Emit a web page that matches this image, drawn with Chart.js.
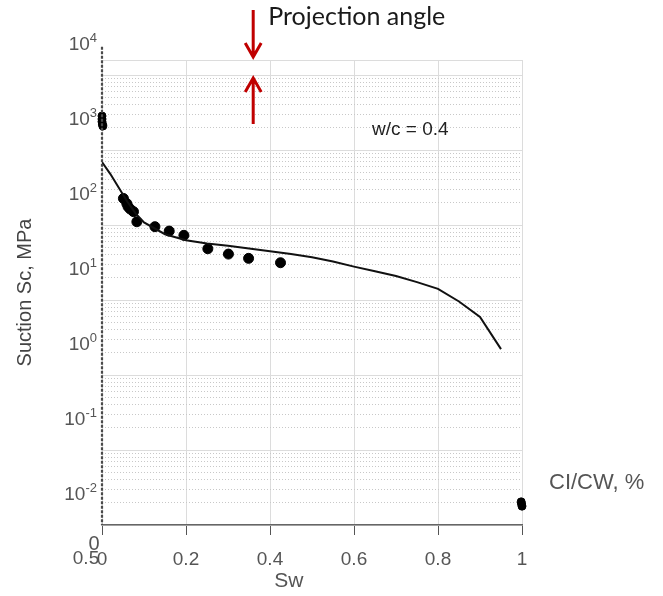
<!DOCTYPE html>
<html>
<head>
<meta charset="utf-8">
<script src="https://cdn.jsdelivr.net/npm/chart.js@4"></script>
<style>
  html, body { margin: 0; padding: 0; background: #fff; }
  #wrap { width: 663px; height: 596px; }
</style>
</head>
<body>
<div id="wrap"><canvas id="suctionChart" width="663" height="596"></canvas></div>
<script>
// model curve: suction vs saturation
const swCurve = [0, 0.02, 0.04, 0.06, 0.08, 0.1, 0.15, 0.2, 0.25, 0.3, 0.35, 0.4, 0.45, 0.5, 0.55, 0.6, 0.65, 0.7, 0.75, 0.8, 0.85, 0.9, 0.95];
const scCurve = [275, 190, 125, 82, 57, 43, 30, 25, 22.5, 21, 19.3, 17.8, 16.3, 14.8, 13, 11.1, 9.6, 8.3, 6.9, 5.6, 3.8, 2.36, 0.88];

// measured points
const swPoints = [0.051, 0.059, 0.062, 0.067, 0.075, 0.083, 0.126, 0.16, 0.195, 0.252, 0.301, 0.349, 0.425];
const scPoints = [90, 77, 70, 65, 60, 44, 37.8, 33, 29, 19.2, 16.3, 14.3, 12.5];

// clusters at the axis ends (CI/CW overlay)
const swDry = [0, 0, 0, 0.001, 0.002];
const scDry = [1130, 1030, 950, 880, 830];
const swWet = [0.998, 0.999, 1.0, 1.002, 1.003];
const ciWet = [0.0081, 0.0076, 0.0071, 0.0066, 0.0062];

// left overlay axis edge
const swEdge = [0, 0];
const scEdge = [9500, 0.004];

const xTicks = [0, 0.2, 0.4, 0.6, 0.8, 1];
const yTickExp = [4, 3, 2, 1, 0, -1, -2];
const gridExp = [-3, -2, -1, 0, 1, 2, 3];

const yMin = Math.pow(10, -2.4), yMax = Math.pow(10, 3.8);
const gMin = 1e-3, gMax = Math.pow(10, 3.2);

const gridValues = [];
gridExp.forEach(e => {
  for (let m = 1; m <= 9; m++) {
    const v = m * Math.pow(10, e);
    if (v <= gMax) gridValues.push(v);
  }
});
gridValues.push(gMax);

const isMajor = v => Math.abs(Math.log10(v) - Math.round(Math.log10(v))) < 1e-6 || v >= gMax * 0.999;

const toXY = (xs, ys) => xs.map((x, i) => ({ x: x, y: ys[i] }));

const SANS = "'Liberation Sans', Arial, sans-serif";
Chart.defaults.font.family = SANS;

const overlay = {
  id: "overlay",
  afterDraw(chart) {
    const ctx = chart.ctx;
    const xs = chart.scales.x, ys = chart.scales.y;
    const a = chart.chartArea;
    ctx.save();

    // y tick labels 10^n with real superscripts
    const right = ys.right - 5;
    ctx.fillStyle = "#555";
    ctx.textBaseline = "middle";
    yTickExp.forEach(e => {
      const py = ys.getPixelForValue(Math.pow(10, e));
      const ex = e < 0 ? "-" + Math.abs(e) : String(e);
      ctx.font = "13px " + SANS;
      const ew = ctx.measureText(ex).width;
      ctx.textAlign = "left";
      ctx.fillText(ex, right - ew, py - 7);
      ctx.font = "19px " + SANS;
      ctx.textAlign = "right";
      ctx.fillText("10", right - ew, py);
    });

    // projection angle arrows
    const ax = xs.getPixelForValue(0.36);
    ctx.strokeStyle = "#c00000";
    ctx.lineWidth = 3;
    ctx.beginPath();
    ctx.moveTo(ax, a.top - 50); ctx.lineTo(ax, a.top - 4);
    ctx.moveTo(ax - 8, a.top - 17); ctx.lineTo(ax, a.top - 3); ctx.lineTo(ax + 8, a.top - 17);
    ctx.moveTo(ax, a.top + 64); ctx.lineTo(ax, a.top + 19);
    ctx.moveTo(ax - 8, a.top + 32); ctx.lineTo(ax, a.top + 18); ctx.lineTo(ax + 8, a.top + 32);
    ctx.stroke();

    ctx.fillStyle = "#1a1a1a";
    ctx.font = "25px Lato, 'Open Sans', sans-serif";
    ctx.textAlign = "left";
    ctx.textBaseline = "alphabetic";
    ctx.fillText("Projection angle", ax + 15, a.top - 35);

    ctx.font = "19px " + SANS;
    ctx.textBaseline = "middle";
    ctx.fillStyle = "#222";
    ctx.fillText("w/c = 0.4", xs.getPixelForValue(0.643), ys.getPixelForValue(740));

    ctx.fillStyle = "#555";
    ctx.font = "22px " + SANS;
    ctx.fillText("CI/CW, %", a.right + 27, a.bottom - 42);
    ctx.textAlign = "center";
    ctx.font = "20px " + SANS;
    ctx.fillText("0", xs.getPixelForValue(0) - 8, a.bottom + 19);
    ctx.font = "19px " + SANS;
    ctx.fillText("0.5", xs.getPixelForValue(0) - 16, a.bottom + 34);
    ctx.font = "21px " + SANS;
    ctx.fillText("Sw", xs.getPixelForValue(0.445), a.bottom + 56);
    ctx.restore();
  }
};

new Chart(document.getElementById("suctionChart").getContext("2d"), {
  type: "scatter",
  data: {
    datasets: [
      {
        data: toXY(swEdge, scEdge),
        showLine: true,
        borderColor: "#4a4a4a",
        borderWidth: 2.2,
        borderDash: [3, 1.5],
        pointRadius: 0,
        clip: false
      },
      {
        data: toXY(swCurve, scCurve),
        showLine: true,
        borderColor: "#111",
        borderWidth: 2,
        pointRadius: 0,
        tension: 0
      },
      {
        data: toXY(swPoints, scPoints),
        backgroundColor: "#000",
        borderColor: "#000",
        pointRadius: 5
      },
      {
        data: toXY(swDry, scDry),
        backgroundColor: "#000",
        borderColor: "#000",
        pointRadius: 4,
        clip: false
      },
      {
        data: toXY(swWet, ciWet),
        backgroundColor: "#000",
        borderColor: "#000",
        pointRadius: 4,
        clip: false
      }
    ]
  },
  options: {
    responsive: false,
    animation: false,
    layout: { padding: { left: 0, top: 60, right: 141, bottom: 0 } },
    plugins: { legend: { display: false }, tooltip: { enabled: false } },
    scales: {
      x: {
        type: "linear",
        min: 0,
        max: 1,
        afterBuildTicks: s => { s.ticks = xTicks.map(v => ({ value: v })); },
        afterFit: s => { s.height = 71; },
        ticks: {
          color: "#555",
          font: { size: 19 },
          padding: 13,
          callback: v => String(v)
        },
        grid: { color: "#dcdcdc", tickColor: "#555", tickLength: 10, lineWidth: 1 },
        border: { color: "#666", width: 1.5 }
      },
      y: {
        type: "logarithmic",
        position: "left",
        weight: 10,
        min: yMin,
        max: yMax,
        afterFit: s => { s.width = 102; },
        ticks: { display: false },
        grid: { display: false, drawTicks: false },
        border: { display: false },
        title: {
          display: true,
          text: "Suction Sc, MPa",
          color: "#444",
          font: { size: 20 },
          padding: { top: 13, bottom: 0 }
        }
      },
      yGrid: {
        type: "logarithmic",
        position: "left",
        weight: 0,
        min: gMin,
        max: gMax,
        afterBuildTicks: s => { s.ticks = gridValues.map(v => ({ value: v })); },
        afterFit: s => { s.width = 0; },
        ticks: { display: false },
        grid: {
          drawTicks: false,
          color: c => (c.tick && isMajor(c.tick.value)) ? "#dcdcdc" : "#c8c8c8",
          lineWidth: 1
        },
        border: {
          display: false,
          dash: c => (c.tick && !isMajor(c.tick.value)) ? [1, 2] : []
        }
      }
    }
  },
  plugins: [overlay]
});
</script>
</body>
</html>
